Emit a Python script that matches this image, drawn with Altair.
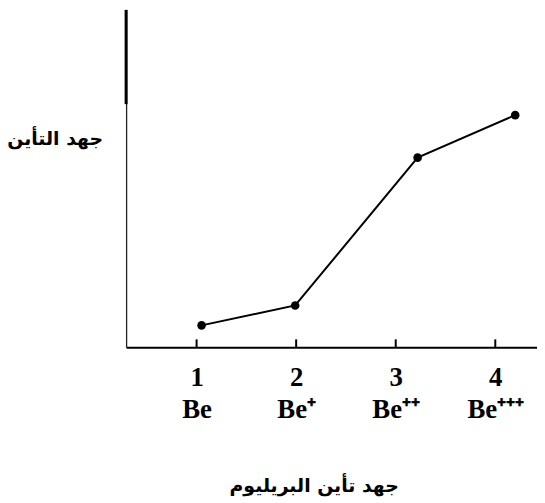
import json
import altair as alt
import pandas as pd

# data
stage = [1.05, 1.99, 3.22, 4.2]
energy = [6.5, 12.4, 56.2, 68.8]
tick_values = [1, 2, 3, 4]
tick_names = ["Be", "Be\u207a", "Be\u207a\u207a", "Be\u207a\u207a\u207a"]
y_title = "جهد التأين"
x_title = "جهد تأين البريليوم"

df = pd.DataFrame({"x": stage, "y": energy})
ticks = pd.DataFrame({"x": tick_values})

label_expr = "[datum.value, " + json.dumps(tick_names, ensure_ascii=False) + "[datum.value - 1]]"

W, H = 414, 340
xscale = alt.Scale(domain=[0.292, 4.419], nice=False, zero=False)
yscale = alt.Scale(domain=[0, 100], nice=False, zero=False)

x_axis = alt.Axis(
    values=tick_values, ticks=False, grid=False, labelExpr=label_expr,
    labelFont="Liberation Serif", labelFontWeight="bold", labelFontSize=27,
    labelColor="black", labelLineHeight=32, labelPadding=18, labelBaseline="top",
    domainColor="black", domainWidth=2,
    title=x_title, titleFont="DejaVu Sans", titleFontWeight="bold", titleFontSize=19,
    titleColor="black", titleAngle=0, titleX=189, titleY=139, titleAlign="center",
    titleBaseline="middle",
)
y_axis = alt.Axis(
    labels=False, ticks=False, grid=False, domainColor="#222222", domainWidth=1.3,
    title=y_title, titleFont="DejaVu Sans", titleFontWeight="bold", titleFontSize=19,
    titleColor="black", titleAngle=0, titleX=-72, titleY=130, titleAlign="center",
    titleBaseline="middle",
)

line = alt.Chart(df).mark_line(color="black", strokeWidth=2).encode(
    x=alt.X("x:Q", scale=xscale, axis=x_axis),
    y=alt.Y("y:Q", scale=yscale, axis=y_axis),
)
pts = alt.Chart(df).mark_circle(color="black", opacity=1, size=75).encode(
    x=alt.X("x:Q", scale=xscale),
    y=alt.Y("y:Q", scale=yscale),
)
tk = alt.Chart(ticks).mark_rule(color="black", strokeWidth=2).encode(
    x=alt.X("x:Q", scale=xscale),
    y=alt.value(H - 8),
    y2=alt.value(H),
)
thick = alt.Chart(ticks.head(1)).mark_rule(color="black", strokeWidth=3).encode(
    x=alt.value(0),
    y=alt.value(0),
    y2=alt.value(95),
)

chart = (
    alt.layer(thick, tk, line, pts)
    .properties(
        width=W, height=H,
        autosize=alt.AutoSizeParams(type="none"),
        padding={"left": 119, "top": 0, "right": 0, "bottom": 152},
        background="white",
    )
    .configure_view(stroke=None)
)

chart.save("out.html", embed_options={"renderer": "svg", "actions": False})
